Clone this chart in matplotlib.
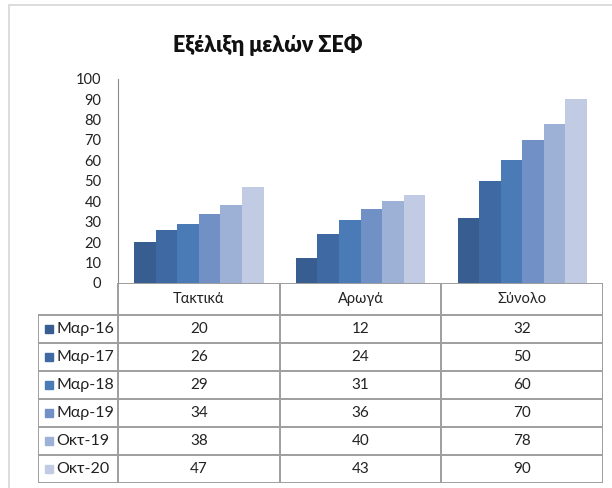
import numpy as np
import matplotlib

matplotlib.use("Agg")
import matplotlib.pyplot as plt
from matplotlib.patches import Rectangle

plt.rcParams["font.family"] = ["Lato", "Noto Sans", "DejaVu Sans"]

# data
categories = ["Τακτικά", "Αρωγά", "Σύνολο"]
periods = ["Μαρ-16", "Μαρ-17", "Μαρ-18", "Μαρ-19", "Οκτ-19", "Οκτ-20"]
taktika = [20, 26, 29, 34, 38, 47]
arogа = [12, 24, 31, 36, 40, 43]
synolo = [32, 50, 60, 70, 78, 90]
colors = ["#375D91", "#3F69A2", "#4A7BB7", "#7090C6", "#9DB1D7", "#C1CCE4"]

values = np.array([taktika, arogа, synolo]).T  # rows = periods

W, H = 612, 488
fig = plt.figure(figsize=(W / 100, H / 100), dpi=100)

# light frame of the chart area
fig.patches.append(Rectangle((8.5 / W, -0.1), 1.2, (H - 5.5) / H + 0.1,
                             transform=fig.transFigure, fill=False,
                             edgecolor="#D6D6D6", linewidth=1.2))

fig.text(268 / W, 1 - 45 / H, "Εξέλιξη μελών ΣΕΦ", ha="center", va="center",
         fontsize=15.5, fontweight="heavy", color="#111111")

# bar axes
x0, x1 = 118, 603
y_top, y_zero = 78.6, 283
ax = fig.add_axes([x0 / W, (H - y_zero) / H, (x1 - x0) / W, (y_zero - y_top) / H])
n = len(periods)
bw = 0.8 / n
xc = np.arange(len(categories)) + 0.5
for i, p in enumerate(periods):
    ax.bar(xc - 0.4 + bw * (i + 0.5), values[i], width=bw, color=colors[i],
           linewidth=0)
ax.set_xlim(0, len(categories))
ax.set_ylim(0, 100)
ax.set_yticks(range(0, 101, 10))
ax.tick_params(axis="y", length=0, pad=12, labelsize=10.5, labelcolor="#222222")
ax.set_xticks([])
for s in ["top", "right", "bottom"]:
    ax.spines[s].set_visible(False)
ax.spines["left"].set_color("#8C8C8C")

# data table under the bars
unit = (x1 - x0) / len(categories)
tl = 38
tax = fig.add_axes([tl / W, (H - 483) / H, (x1 - tl) / W, (483 - y_zero) / H])
lx = -(x0 - tl) / unit
hdr = 1.15
nrows = hdr + n
tax.set_xlim(lx, len(categories))
tax.set_ylim(nrows, 0)
tax.axis("off")

lc = "#9E9E9E"
tax.plot([0, len(categories)], [0, 0], color="#8C8C8C", lw=1.2)
for r in range(n + 1):
    tax.plot([lx, len(categories)], [hdr + r, hdr + r], color=lc, lw=1.4)
for c in range(len(categories) + 1):
    tax.plot([c, c], [0, nrows], color=lc, lw=1.4)
tax.plot([lx, lx], [hdr, nrows], color=lc, lw=1.4)

for j, cat in enumerate(categories):
    tax.text(j + 0.5, hdr / 2, cat, ha="center", va="center", fontsize=10.5,
             color="#222222")
for i, p in enumerate(periods):
    yc = hdr + i + 0.5
    tax.plot(lx + 11 / unit, yc, marker="s", markersize=6, color=colors[i],
             linestyle="none")
    tax.text(lx + 18 / unit, yc, p, ha="left", va="center", fontsize=11.5,
             color="#222222")
    for j in range(len(categories)):
        tax.text(j + 0.5, yc, str(values[i][j]), ha="center", va="center",
                 fontsize=11, color="#222222")

fig.savefig("out.png", dpi=100)
